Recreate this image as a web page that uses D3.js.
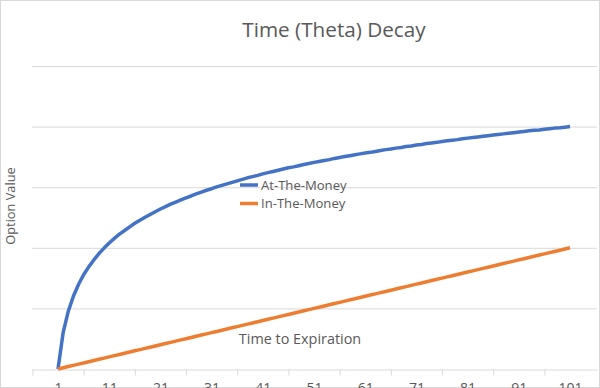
<!DOCTYPE html>
<html>
<head>
<meta charset="utf-8">
<script src="https://cdn.jsdelivr.net/npm/d3@7"></script>
<style>
  html, body { margin: 0; padding: 0; background: #fff; }
  svg { display: block; font-family: "Open Sans", sans-serif; }
</style>
</head>
<body>
<svg id="chart" width="600" height="388"></svg>
<script>
// Chart data
const days = [
  1, 2, 3, 4, 5, 6, 7, 8, 9, 10,
  11, 12, 13, 14, 15, 16, 17, 18, 19, 20,
  21, 22, 23, 24, 25, 26, 27, 28, 29, 30,
  31, 32, 33, 34, 35, 36, 37, 38, 39, 40,
  41, 42, 43, 44, 45, 46, 47, 48, 49, 50,
  51, 52, 53, 54, 55, 56, 57, 58, 59, 60,
  61, 62, 63, 64, 65, 66, 67, 68, 69, 70,
  71, 72, 73, 74, 75, 76, 77, 78, 79, 80,
  81, 82, 83, 84, 85, 86, 87, 88, 89, 90,
  91, 92, 93, 94, 95, 96, 97, 98, 99, 100,
  101
];

const atTheMoney = [
  0, 12.0, 19.0, 24.0, 27.9, 31.1, 33.7, 36.0, 38.1, 39.9,
  41.6, 43.1, 44.5, 45.7, 46.9, 48.1, 49.1, 50.1, 51.0, 51.9,
  52.8, 53.6, 54.4, 55.1, 55.8, 56.5, 57.1, 57.8, 58.4, 59.0,
  59.5, 60.1, 60.6, 61.1, 61.6, 62.1, 62.6, 63.1, 63.5, 63.9,
  64.4, 64.8, 65.2, 65.6, 66.0, 66.4, 66.7, 67.1, 67.5, 67.8,
  68.2, 68.5, 68.8, 69.1, 69.5, 69.8, 70.1, 70.4, 70.7, 71.0,
  71.3, 71.5, 71.8, 72.1, 72.4, 72.6, 72.9, 73.1, 73.4, 73.6,
  73.9, 74.1, 74.4, 74.6, 74.8, 75.1, 75.3, 75.5, 75.7, 76.0,
  76.2, 76.4, 76.6, 76.8, 77.0, 77.2, 77.4, 77.6, 77.8, 78.0,
  78.2, 78.4, 78.6, 78.8, 78.9, 79.1, 79.3, 79.5, 79.6, 79.8,
  80.0
];

const inTheMoney = [
  0, 0.4, 0.8, 1.2, 1.6, 2.0, 2.4, 2.8, 3.2, 3.6,
  4.0, 4.4, 4.8, 5.2, 5.6, 6.0, 6.4, 6.8, 7.2, 7.6,
  8.0, 8.4, 8.8, 9.2, 9.6, 10.0, 10.4, 10.8, 11.2, 11.6,
  12.0, 12.4, 12.8, 13.2, 13.6, 14.0, 14.4, 14.8, 15.2, 15.6,
  16.0, 16.4, 16.8, 17.2, 17.6, 18.0, 18.4, 18.8, 19.2, 19.6,
  20.0, 20.4, 20.8, 21.2, 21.6, 22.0, 22.4, 22.8, 23.2, 23.6,
  24.0, 24.4, 24.8, 25.2, 25.6, 26.0, 26.4, 26.8, 27.2, 27.6,
  28.0, 28.4, 28.8, 29.2, 29.6, 30.0, 30.4, 30.8, 31.2, 31.6,
  32.0, 32.4, 32.8, 33.2, 33.6, 34.0, 34.4, 34.8, 35.2, 35.6,
  36.0, 36.4, 36.8, 37.2, 37.6, 38.0, 38.4, 38.8, 39.2, 39.6,
  40.0
];

const xTickLabels = [1, 11, 21, 31, 41, 51, 61, 71, 81, 91, 101];
const xTickMarks = [-4, 6, 16, 26, 36, 46, 56, 66, 76, 86, 96];
const yGridValues = [20, 40, 60, 80, 100];

const seriesNames = ['At-The-Money', 'In-The-Money'];
const seriesColors = ['#4472C4', '#ED7D31'];

const svg = d3.select('#chart');
const W = 600, H = 388;
const textColor = '#595959';
const gridColor = '#d9d9d9';

// chart border
svg.append('rect')
  .attr('x', 0.5).attr('y', 0.5)
  .attr('width', W - 1).attr('height', H - 1)
  .attr('fill', '#fff')
  .attr('stroke', gridColor);

// Scales
const x = d3.scaleLinear().domain([-4.08, 106.27]).range([32, 597]);
const y = d3.scaleLinear().domain([0, 100]).range([369, 66]);

// Gridlines
svg.append('g')
  .attr('transform', 'translate(32,0)')
  .call(d3.axisLeft(y).tickValues(yGridValues).tickSize(-(597 - 32)).tickFormat(''))
  .call(g => g.select('.domain').remove())
  .call(g => g.selectAll('line').attr('stroke', gridColor).attr('stroke-width', 1));

// X axis line + tick marks
svg.append('g')
  .attr('transform', 'translate(0,369.5)')
  .call(d3.axisBottom(x).tickValues(xTickMarks).tickSize(6).tickSizeOuter(0).tickFormat(''))
  .call(g => g.select('.domain').attr('stroke', gridColor))
  .call(g => g.selectAll('line').attr('stroke', gridColor));

// X tick labels
svg.append('g')
  .attr('transform', 'translate(0,369)')
  .call(d3.axisBottom(x).tickValues(xTickLabels).tickSize(0).tickPadding(0))
  .call(g => g.select('.domain').remove())
  .call(g => g.selectAll('text')
    .attr('y', 24)
    .attr('dy', null)
    .attr('fill', textColor)
    .style('font-size', '14px')
    .style('font-family', '"Open Sans", sans-serif'));

// Lines
const line = d3.line()
  .x((d, i) => x(days[i]))
  .y(d => y(d));

[atTheMoney, inTheMoney].forEach((vals, k) => {
  svg.append('path')
    .datum(vals)
    .attr('fill', 'none')
    .attr('stroke', seriesColors[k])
    .attr('stroke-width', 3.5)
    .attr('stroke-linejoin', 'round')
    .attr('d', line);
});

// Title
svg.append('text')
  .attr('x', 334).attr('y', 37)
  .attr('text-anchor', 'middle')
  .attr('fill', textColor)
  .style('font-size', '20.7px')
  .text('Time (Theta) Decay');

// Axis titles
svg.append('text')
  .attr('transform', 'translate(15,206) rotate(-90)')
  .attr('text-anchor', 'middle')
  .attr('fill', textColor)
  .style('font-size', '12.8px')
  .text('Option Value');

svg.append('text')
  .attr('x', 300).attr('y', 343.5)
  .attr('text-anchor', 'middle')
  .attr('fill', textColor)
  .style('font-size', '14.4px')
  .text('Time to Expiration');

// Legend
const legend = svg.append('g').attr('transform', 'translate(240,185)');
seriesNames.forEach((name, i) => {
  const row = legend.append('g').attr('transform', `translate(0,${i * 18.5})`);
  row.append('line')
    .attr('x1', 0).attr('x2', 18)
    .attr('stroke', seriesColors[i])
    .attr('stroke-width', 3.5);
  row.append('text')
    .attr('x', 21).attr('y', 4.6)
    .attr('fill', textColor)
    .style('font-size', '13.1px')
    .text(name);
});
</script>
</body>
</html>
